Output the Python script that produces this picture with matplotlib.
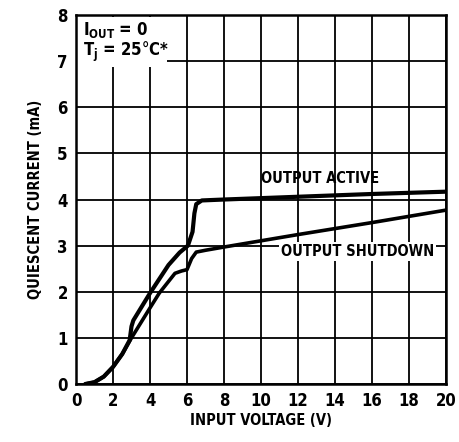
import matplotlib.pyplot as plt
import numpy as np

# === Data ===
active_v = [0.5, 1.0, 1.5, 2.0, 2.5, 2.9, 3.0, 3.1, 4.0, 5.0, 5.6, 6.05, 6.3, 6.4, 6.5, 6.8, 8.0, 12.0, 16.0, 20.0]
active_i = [0.0, 0.04, 0.16, 0.37, 0.65, 0.95, 1.25, 1.38, 1.97, 2.58, 2.85, 3.0, 3.3, 3.7, 3.9, 3.98, 4.0, 4.06, 4.12, 4.17]

shutdown_v = [0.5, 1.0, 1.5, 2.0, 2.5, 3.0, 4.0, 4.5, 5.35, 5.7, 6.0, 6.25, 6.5, 7.0, 8.0, 12.0, 16.0, 20.0]
shutdown_i = [0.0, 0.04, 0.16, 0.37, 0.65, 1.0, 1.65, 1.97, 2.4, 2.45, 2.48, 2.72, 2.86, 2.9, 2.97, 3.24, 3.5, 3.77]

xticks = [0, 2, 4, 6, 8, 10, 12, 14, 16, 18, 20]
yticks = [0, 1, 2, 3, 4, 5, 6, 7, 8]

font = dict(family='DejaVu Sans', stretch='condensed', fontweight='bold', fontsize=10.5)

fig = plt.figure(figsize=(4.59, 4.42), dpi=100)
ax = fig.add_axes([0.1656, 0.1312, 0.806, 0.8348])

ax.set_xlim(0, 20)
ax.set_ylim(0, 8)
ax.set_xticks(xticks)
ax.set_yticks(yticks)
ax.grid(True, color='black', linewidth=1.3)
ax.set_axisbelow(True)
for s in ax.spines.values():
    s.set_linewidth(1.8)
ax.tick_params(length=0, pad=6)
for lab in ax.get_xticklabels() + ax.get_yticklabels():
    lab.set_family('DejaVu Sans')
    lab.set_stretch('condensed')
    lab.set_fontweight('bold')
    lab.set_fontsize(12)

ax.plot(active_v, active_i, color='black', linewidth=3.0, solid_capstyle='round', zorder=3)
ax.plot(shutdown_v, shutdown_i, color='black', linewidth=2.6, solid_capstyle='round', zorder=3)

# condition box in upper left
ax.add_patch(plt.Rectangle((0.05, 6.88), 4.85, 1.08, facecolor='white', edgecolor='none', zorder=2))
box_font = dict(font, fontsize=12)
ax.text(0.4, 7.68, r'I$_{\mathregular{OUT}}$ = 0', va='center', ha='left', zorder=4, **box_font)
ax.text(0.4, 7.2, r'T$_{\mathregular{j}}$ = 25°C*', va='center', ha='left', zorder=4, **box_font)

ax.text(13.2, 4.45, 'OUTPUT ACTIVE', ha='center', va='center', zorder=4, **font)
ax.text(15.2, 2.88, 'OUTPUT SHUTDOWN', ha='center', va='center', zorder=4,
        bbox=dict(facecolor='white', edgecolor='none', pad=1.5), **font)

ax.set_xlabel('INPUT VOLTAGE (V)', labelpad=2, **font)
ax.set_ylabel('QUIESCENT CURRENT (mA)', labelpad=10, **font)

plt.savefig('out.png', dpi=100)
